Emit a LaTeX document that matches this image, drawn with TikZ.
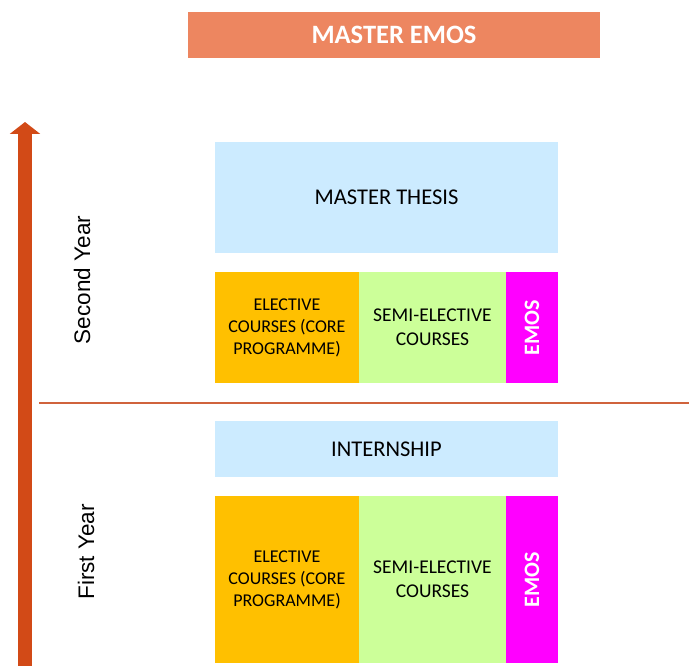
\documentclass[tikz,border=0pt]{standalone}
\usepackage{fontspec}
\setmainfont{Carlito}
\newfontfamily\yearfont{Liberation Sans}
\usepackage{xcolor}
\usetikzlibrary{positioning,arrows.meta}

\definecolor{titleorange}{HTML}{ED8660}
\definecolor{axisred}{HTML}{D24A17}
\definecolor{divline}{HTML}{D0633C}
\definecolor{paleblue}{HTML}{CCEBFF}
\definecolor{electiveorange}{HTML}{FFC000}
\definecolor{semigreen}{HTML}{CCFF99}
\definecolor{emosmagenta}{HTML}{FF00FF}

\begin{document}
\begin{tikzpicture}[
    x=1pt, y=-1pt,
    cell/.style={rectangle, inner sep=0pt, outer sep=0pt, align=center, text=black, font=\fontsize{18}{22}\selectfont},
    wide/.style={cell, fill=paleblue, minimum width=343pt, font=\fontsize{22.5}{27}\selectfont},
    elective/.style={cell, fill=electiveorange, minimum width=144pt},
    semi/.style={cell, fill=semigreen, minimum width=147pt, font=\fontsize{19.5}{24}\selectfont},
    emos/.style={cell, fill=emosmagenta, minimum width=52pt,
        label={[rotate=90, text=white, font=\fontsize{22}{26}\selectfont\bfseries]center:EMOS}},
    yearlabel/.style={rotate=90, font=\yearfont\fontsize{22.5}{27}\selectfont},
    timeaxis/.style={axisred, line width=14pt, -{Triangle[width=30pt, length=12pt]}}
]
    \useasboundingbox (0,0) rectangle (689,666);

    % heading
    \node[cell, fill=titleorange, minimum width=412pt, minimum height=46pt, text=white,
        font=\fontsize{26.5}{31}\selectfont\bfseries] (title) at (394,35) {MASTER EMOS};

    % second year
    \node[wide, minimum height=111pt, anchor=north west] (thesis) at (215,142) {MASTER THESIS};
    \node[elective, minimum height=111pt, below=19pt of thesis.south west, anchor=north west] (elec2) {ELECTIVE\\COURSES (CORE\\PROGRAMME)};
    \node[semi, minimum height=111pt, right=0pt of elec2] (semi2) {SEMI-ELECTIVE\\COURSES};
    \node[emos, minimum height=111pt, right=0pt of semi2] (emos2) {};

    % first year
    \node[wide, minimum height=56pt, anchor=north west] (intern) at (215,421) {INTERNSHIP};
    \node[elective, minimum height=167pt, below=19pt of intern.south west, anchor=north west] (elec1) {ELECTIVE\\COURSES (CORE\\PROGRAMME)};
    \node[semi, minimum height=167pt, right=0pt of elec1] (semi1) {SEMI-ELECTIVE\\COURSES};
    \node[emos, minimum height=167pt, right=0pt of semi1] (emos1) {};

    % year labels and time axis
    \node[yearlabel] (year2) at (82,280) {Second Year};
    \node[yearlabel] (year1) at (86,552) {First Year};

    \coordinate (axisbottom) at (25,666);
    \coordinate (axistop) at (25,122);
    \draw[timeaxis] (axisbottom) -- (axistop);

    \coordinate (divleft) at (39,403);
    \coordinate (divright) at (689,403);
    \draw[divline, line width=1.5pt] (divleft) -- (divright);
\end{tikzpicture}
\end{document}
